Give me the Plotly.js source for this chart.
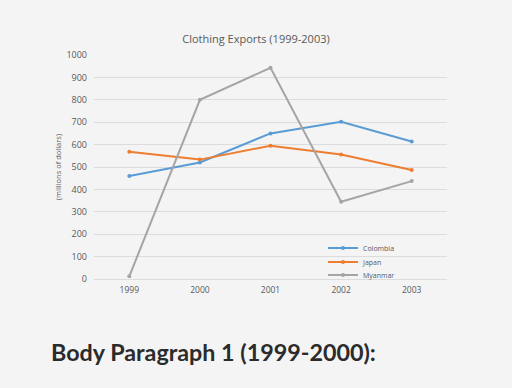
<!DOCTYPE html>
<html>
<head>
<meta charset="utf-8">
<script src="https://cdn.plot.ly/plotly-3.0.1.min.js"></script>
<style>
html,body{margin:0;padding:0;background:#f4f4f4;}
#chart{width:512px;height:388px;}
</style>
</head>
<body>
<div id="chart"></div>
<script>
const years = ["1999", "2000", "2001", "2002", "2003"];
const colombia = [460, 520, 650, 702, 614];
const japan = [568, 533, 595, 556, 487];
const myanmar = [12, 800, 943, 345, 437];
const seriesNames = ["Colombia", "Japan", "Myanmar"];
const seriesColors = ["#5b9bd5", "#ed7d31", "#a5a5a5"];
const seriesValues = [colombia, japan, myanmar];
const legendIds = ["legend", "legend2", "legend3"];

const traces = seriesValues.map((vals, i) => ({
  x: years,
  y: vals,
  name: seriesNames[i],
  type: "scatter",
  mode: "lines+markers",
  legend: legendIds[i],
  showlegend: true,
  line: {color: seriesColors[i], width: 2},
  marker: {color: seriesColors[i], size: 4}
}));

const plotL = 94, plotR = 447, plotT = 55, plotB = 279;
const pw = plotR - plotL, ph = plotB - plotT;
const legendRowsY = [248, 262, 275];
const legendLeft = 323;

function legendBox(py) {
  return {
    x: (legendLeft - plotL) / pw,
    y: (plotB - py) / ph,
    xanchor: "left",
    yanchor: "middle",
    bgcolor: "rgba(0,0,0,0)",
    font: {size: 7, color: "#595959", family: "'Open Sans', sans-serif"},
    itemwidth: 30,
    visible: true
  };
}

const layout = {
  width: 512,
  height: 388,
  showlegend: true,
  paper_bgcolor: "#f4f4f4",
  plot_bgcolor: "#f4f4f4",
  margin: {l: plotL, r: 512 - plotR, t: plotT, b: 388 - plotB},
  font: {family: "'Open Sans', sans-serif", color: "#595959"},
  title: {
    text: "Clothing Exports (1999-2003)",
    font: {size: 11, color: "#595959", family: "'Open Sans', sans-serif"},
    x: 0.5, xanchor: "center",
    y: 1 - 39 / 388, yanchor: "middle"
  },
  xaxis: {
    type: "category",
    range: [-0.5, 4.5],
    showgrid: false,
    zeroline: false,
    showline: false,
    ticks: "",
    tickfont: {size: 8.5, color: "#595959", family: "'Open Sans', sans-serif"},
    ticklabelstandoff: 4
  },
  yaxis: {
    range: [0, 1000],
    dtick: 100,
    showgrid: true,
    gridcolor: "#dcdcdc",
    gridwidth: 1,
    zeroline: true,
    zerolinecolor: "#dcdcdc",
    zerolinewidth: 1,
    ticks: "",
    tickfont: {size: 9, color: "#595959", family: "'Open Sans', sans-serif"},
    ticklabelstandoff: 6,
    title: {
      text: "(millions of dollars)",
      font: {size: 7.5, color: "#595959", family: "'Open Sans', sans-serif"},
      standoff: 3
    }
  },
  legend: legendBox(legendRowsY[0]),
  legend2: legendBox(legendRowsY[1]),
  legend3: legendBox(legendRowsY[2]),
  annotations: [{
    text: "<b>Body Paragraph 1 (1999-2000):</b>",
    xref: "paper", yref: "paper",
    x: (49 - plotL) / pw, y: (plotB - 352) / ph,
    xanchor: "left", yanchor: "middle",
    showarrow: false,
    font: {size: 23.3, color: "#2b2b2b", family: "Lato, sans-serif"}
  }]
};

Plotly.newPlot("chart", traces, layout, {displayModeBar: false, staticPlot: true});
</script>
</body>
</html>
